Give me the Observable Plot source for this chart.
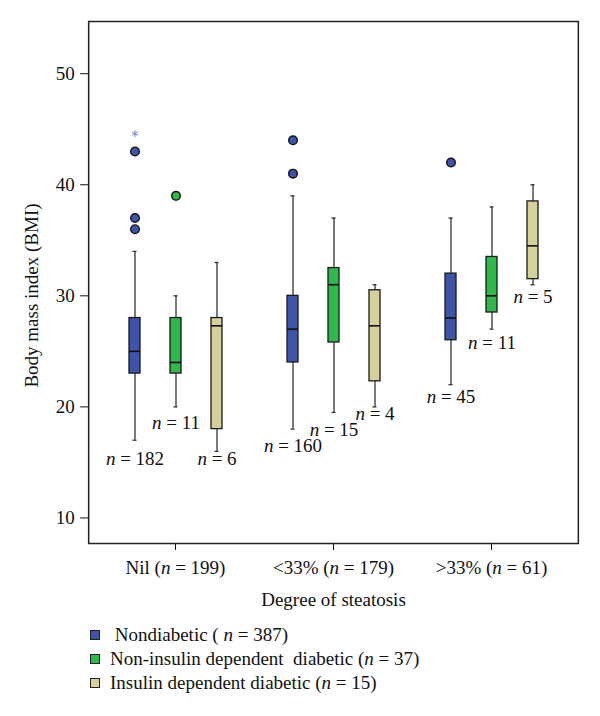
<!DOCTYPE html>
<html>
<head>
<meta charset="utf-8">
<script src="https://cdn.jsdelivr.net/npm/d3@7"></script>
<script src="https://cdn.jsdelivr.net/npm/@observablehq/plot@0.6"></script>
<style>
  body { margin: 0; background: #fff; font-family: "Liberation Serif", "DejaVu Serif", serif; }
  #chart { width: 600px; }
  .legend { margin: 7px 0 0 90px; font-size: 19px; color: #111; }
  .legend .row { display: flex; align-items: center; height: 24px; white-space: pre; }
  .legend .sw { width: 8px; height: 8px; border: 1px solid #222; margin-right: 10px; flex: none; }
</style>
</head>
<body>
<div id="chart"></div>
<script>
// ---- data ----
const groups = ["Nil (n = 199)", "<33% (n = 179)", ">33% (n = 61)"];
const types = ["Nondiabetic", "Non-insulin dependent diabetic", "Insulin dependent diabetic"];
const legendLabels = [" Nondiabetic ( n = 387)", "Non-insulin dependent  diabetic (n = 37)", "Insulin dependent diabetic (n = 15)"];
const colors = ["#3d55a8", "#2fb84c", "#d6d19c"];
const yLabel = "Body mass index (BMI)";
const xLabel = "Degree of steatosis";

// rows: group (Nil, <33%, >33%), columns: type
const whiskerLow  = [[17, 20, 16], [18, 19.5, 20], [22, 27, 31]];
const quartile1   = [[23, 23, 18], [24, 25.8, 22.3], [26, 28.5, 31.5]];
const medians     = [[25, 24, 27.3], [27, 31, 27.3], [28, 30, 34.5]];
const quartile3   = [[28, 28, 28], [30, 32.5, 30.5], [32, 33.5, 38.5]];
const whiskerHigh = [[34, 30, 33], [39, 37, 31], [37, 38, 40]];
const counts      = [[182, 11, 6], [160, 15, 4], [45, 11, 5]];
const countLabelAt = [[15.3, 18.6, 15.3], [16.5, 17.9, 19.4], [20.9, 25.8, 29.9]];

const outlierGroup = [0, 0, 0, 0, 1, 1, 2];
const outlierType  = [0, 0, 0, 1, 0, 0, 0];
const outlierValue = [43, 37, 36, 39, 44, 41, 42];

const extremeGroup = [0];
const extremeType  = [0];
const extremeValue = [44.6];

const yTicks = [10, 20, 30, 40, 50];

// ---- tables built from the arrays ----
const boxes = [];
groups.forEach((g, gi) => types.forEach((t, ti) => boxes.push({
  group: g, type: t,
  lo: whiskerLow[gi][ti], q1: quartile1[gi][ti], med: medians[gi][ti],
  q3: quartile3[gi][ti], hi: whiskerHigh[gi][ti],
  n: counts[gi][ti], labelAt: countLabelAt[gi][ti]
})));
const outliers = outlierValue.map((v, i) => ({group: groups[outlierGroup[i]], type: types[outlierType[i]], value: v}));
const extremes = extremeValue.map((v, i) => ({group: groups[extremeGroup[i]], type: types[extremeType[i]], value: v}));

// ---- layout ----
const W = 600, H = 616, mL = 88, mR = 21, mT = 21, mB = 73;
const fxPad = 0.1;
const fxStep = (W - mL - mR) / (groups.length - fxPad + 2 * fxPad);
const outerGap = fxPad * fxStep; // distance from frame edge to first/last facet
const font = "Liberation Serif, DejaVu Serif, serif";

const plot = Plot.plot({
  width: W, height: H,
  marginTop: mT, marginLeft: mL, marginRight: mR, marginBottom: mB,
  style: {fontFamily: font, fontSize: "19px", color: "#111", background: "#fff"},
  fx: {domain: groups, paddingInner: fxPad, paddingOuter: fxPad},
  x: {domain: types, paddingInner: 0.736, paddingOuter: 0.578, axis: null},
  y: {domain: [7.7, 54.7]},
  color: {domain: types, range: colors},
  marks: [
    Plot.ruleX(boxes, {fx: "group", x: "type", y1: "lo", y2: "hi", stroke: "#333", strokeWidth: 1.3}),
    Plot.tickY(boxes, {fx: "group", x: "type", y: "lo", stroke: "#333", strokeWidth: 1.3, insetLeft: 3.5, insetRight: 3.5}),
    Plot.tickY(boxes, {fx: "group", x: "type", y: "hi", stroke: "#333", strokeWidth: 1.3, insetLeft: 3.5, insetRight: 3.5}),
    Plot.barY(boxes, {fx: "group", x: "type", y1: "q1", y2: "q3", fill: "type", stroke: "#1a1a1a", strokeWidth: 1.3}),
    Plot.tickY(boxes, {fx: "group", x: "type", y: "med", stroke: "#111", strokeWidth: 1.6}),
    Plot.dot(outliers, {fx: "group", x: "type", y: "value", fill: "type", stroke: "#111", strokeWidth: 1.4, r: 4.3}),
    Plot.dot(extremes, {fx: "group", x: "type", y: "value", symbol: "asterisk", stroke: "#6d80cc", strokeWidth: 1, r: 3.2}),
    Plot.text(boxes, {fx: "group", x: "type", y: "labelAt", text: d => `n = ${d.n}`, fontSize: 19, fill: "#111"}),
    Plot.frame({facet: "super", stroke: "#222", strokeWidth: 1.5, insetLeft: -outerGap, insetRight: -outerGap}),
    Plot.axisY({ticks: yTicks, tickSize: 8, tickPadding: 6, tickFormat: d => d, dx: -outerGap, label: null}),
    Plot.text([yLabel], {facet: "super", text: d => d, frameAnchor: "left", textAnchor: "middle", rotate: -90,
      dx: -(outerGap + 57), dy: 13, fontSize: 19, fill: "#111"}),
    Plot.axisFx({anchor: "bottom", tickSize: 7, tickPadding: 10,
      label: xLabel, labelAnchor: "center", labelOffset: 62})
  ]
});

// italicise the statistical "n" in every label
function italicN(el) {
  const s = el.textContent;
  if (!/(^|\()n = /.test(s)) return;
  const parts = s.split(/((?:^|(?<=\())n(?= = ))/);
  el.textContent = "";
  parts.forEach(p => {
    if (!p) return;
    const ts = document.createElementNS("http://www.w3.org/2000/svg", "tspan");
    ts.textContent = p;
    if (p === "n") ts.setAttribute("font-style", "italic");
    el.appendChild(ts);
  });
}
d3.select(plot).selectAll("text").each(function() { italicN(this); });

document.getElementById("chart").appendChild(plot);

// legend
const legend = d3.select("#chart").append("div").attr("class", "legend");
legendLabels.forEach((t, i) => {
  const row = legend.append("div").attr("class", "row");
  row.append("span").attr("class", "sw").style("background", colors[i]);
  const label = row.append("span");
  t.split(/(\bn(?= = ))/).forEach(p => {
    if (p === "n") label.append("i").text(p);
    else label.append("span").text(p);
  });
});
</script>
</body>
</html>
